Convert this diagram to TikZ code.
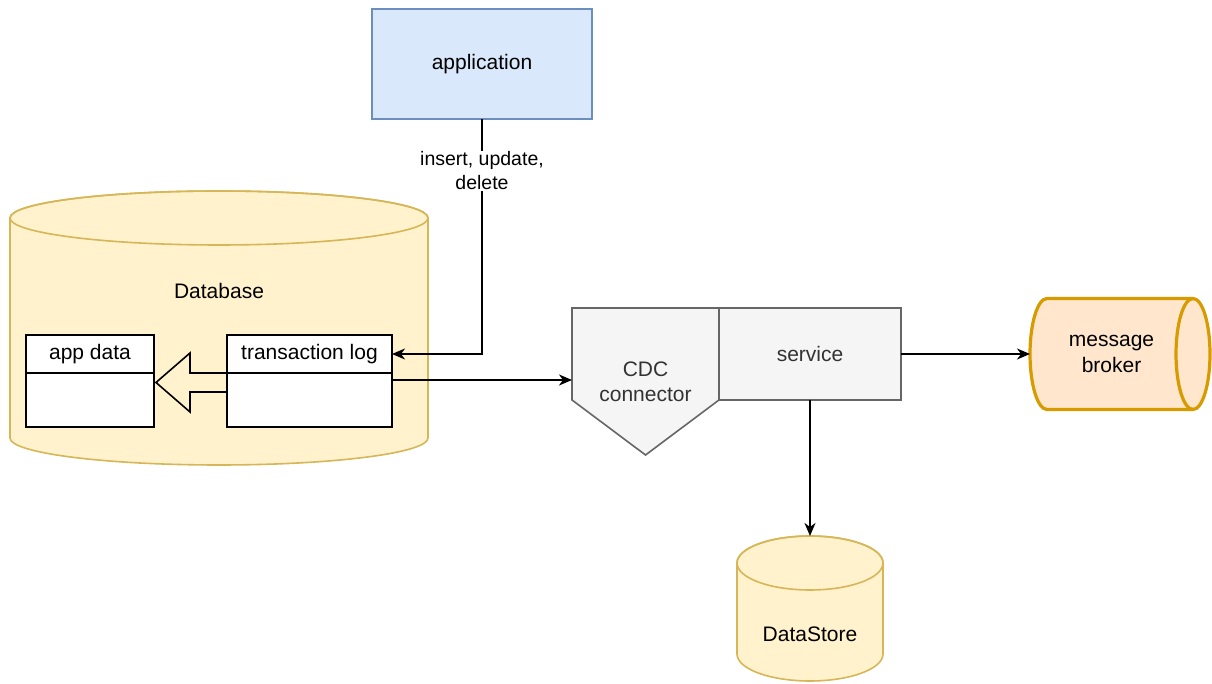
\documentclass[tikz,border=0pt]{standalone}
\usepackage{fontspec}
\setmainfont{Liberation Sans}
\usetikzlibrary{arrows.meta,calc}
\definecolor{appfill}{HTML}{DAE8FC}
\definecolor{appstroke}{HTML}{6C8EBF}
\definecolor{dbfill}{HTML}{FFF2CC}
\definecolor{dbstroke}{HTML}{D6B656}
\definecolor{gfill}{HTML}{F5F5F5}
\definecolor{gstroke}{HTML}{666666}
\definecolor{gtext}{HTML}{333333}
\definecolor{brfill}{HTML}{FFE6CC}
\definecolor{brstroke}{HTML}{D79B00}
\begin{document}
\begin{tikzpicture}[x=1pt,y=1pt,
  txt/.style={font=\fontsize{21}{25.5}\selectfont, text=black, align=center},
  lbl/.style={font=\fontsize{19.5}{24}\selectfont, text=black, align=center, fill=white, inner sep=1pt},
  wbox/.style={draw=black, fill=white, line width=1.6pt, inner sep=0pt, outer sep=0pt, txt},
  gshape/.style={draw=gstroke, fill=gfill, line width=1.6pt},
  ghost/.style={inner sep=0pt, outer sep=0pt},
  conn/.style={draw=black, line width=1.7pt, -{Stealth[length=13pt,width=11pt,inset=4pt]}},
  dbshape/.style={draw=dbstroke, fill=dbfill, line width=1.6pt},
  brshape/.style={draw=brstroke, fill=brfill, line width=3.2pt},
]
\useasboundingbox (0,0) rectangle (1212,684);

% application
\node[draw=appstroke, fill=appfill, line width=1.6pt, minimum width=220, minimum height=110, outer sep=0pt, txt] (app) at (482,620) {application};

% Database cylinder
\path[dbshape] (10,466) -- (10,246) arc[start angle=180,end angle=360,x radius=209,y radius=27] -- (428,466) arc[start angle=0,end angle=180,x radius=209,y radius=27] -- cycle;
\draw[dbstroke, line width=1.6pt] (219,466) ellipse[x radius=209, y radius=27];
\node[txt] (db) at (219,393) {Database};

% app data
\node[wbox, minimum width=128, minimum height=38] (adhead) at (90,330) {app data};
\node[wbox, minimum width=128, minimum height=54, anchor=north] (adbody) at (adhead.south) {};

% transaction log
\node[wbox, minimum width=165, minimum height=38] (txhead) at (309.5,330) {transaction log};
\node[wbox, minimum width=165, minimum height=54, anchor=north] (txbody) at (txhead.south) {};

% hollow arrow transaction log -> app data
\coordinate (hstart) at (txbody.north west);
\coordinate (htip) at ($(adbody.east)+(2,17.5)$);
\draw[line width=1.6pt, line join=miter] (hstart) -- ++(-37,0) -- ++(0,20) -- (htip) -- ++(34,-29.5) -- ++(0,20) -- ++(37,0);

% CDC connector
\node[ghost, minimum width=147, minimum height=147] (cdc) at (645.5,302.5) {};
\path[gshape] (cdc.north west) -- (cdc.north east) -- ($(cdc.north east)+(0,-92)$) -- (cdc.south) -- ($(cdc.north west)+(0,-92)$) -- cycle;
\node[txt, text=gtext] (cdctext) at (645.5,302) {CDC\\connector};

% service
\node[gshape, minimum width=182, minimum height=92, inner sep=0pt, outer sep=0pt, txt, text=gtext] (service) at (810,330) {service};

% message broker
\node[ghost, minimum width=163, minimum height=111] (broker) at (1111.5,330) {};
\path[brshape] (1047,385.5) -- (1193,385.5) arc[start angle=90,end angle=-90,x radius=17,y radius=55.5] -- (1047,274.5) arc[start angle=270,end angle=90,x radius=17,y radius=55.5] -- cycle;
\draw[brstroke, line width=3.2pt] (1193,385.5) arc[start angle=90,end angle=270,x radius=17,y radius=55.5];
\node[txt] (brtext) at (1111.5,330) {message\\broker};

% DataStore
\node[ghost, minimum width=146, minimum height=145] (ds) at (810,75.5) {};
\path[dbshape] (737,121) -- (737,30) arc[start angle=180,end angle=360,x radius=73,y radius=27] -- (883,121) arc[start angle=0,end angle=180,x radius=73,y radius=27] -- cycle;
\draw[dbstroke, line width=1.6pt] (810,121) ellipse[x radius=73, y radius=27];
\node[txt] (dstext) at (810,50) {DataStore};

% connectors
\draw[conn] (app.south) |- (txhead.east) node[lbl, pos=0.11] (lab) {insert, update,\\delete};
\coordinate (txout) at ($(txbody.north east)+(0,-7)$);
\draw[conn] (txout) -- (txout -| cdc.west);
\draw[conn] (service.east) -- (broker.west);
\draw[conn] (service.south) -- (ds.north);
\end{tikzpicture}
\end{document}
